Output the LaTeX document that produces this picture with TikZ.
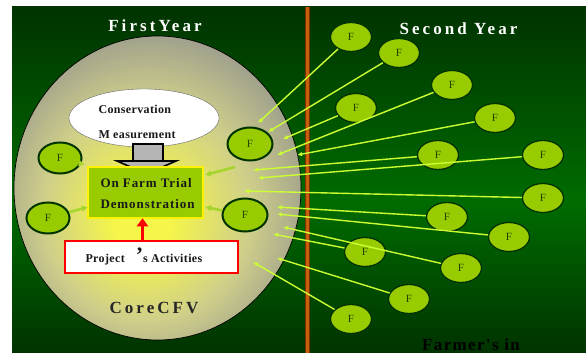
\documentclass[tikz,border=0pt]{standalone}
\usepackage{fontspec}
\setmainfont{Liberation Serif}
\newfontfamily\titlefont[LetterSpace=18]{Liberation Serif}
\newfontfamily\farmfont[LetterSpace=8]{Liberation Serif}
\newfontfamily\innerfont[LetterSpace=7]{Liberation Serif}
\newfontfamily\consfont[LetterSpace=3]{Liberation Serif}
\usetikzlibrary{arrows.meta,shapes.geometric}
\definecolor{bgtop}{HTML}{003300}
\definecolor{bgmid}{HTML}{006C00}
\definecolor{bgbot}{HTML}{003300}
\definecolor{fgreen}{HTML}{99CC00}
\definecolor{fborder}{HTML}{003300}
\definecolor{ftext}{HTML}{224400}
\definecolor{lineg}{HTML}{CCFF33}
\definecolor{arrg}{HTML}{A6D62E}
\definecolor{coregray}{HTML}{8E8E8E}
\definecolor{coreyellow}{HTML}{F5F54A}
\definecolor{coremid}{HTML}{CFCF8A}
\definecolor{rust}{HTML}{C8600A}
\definecolor{rustdark}{HTML}{7A3000}
\definecolor{boxgray}{HTML}{B4B4B4}
\pgfdeclareradialshading{coreshade}{\pgfpoint{-3bp}{-6bp}}{color(0bp)=(coreyellow); color(5bp)=(coreyellow); color(18bp)=(coremid); color(32bp)=(coregray); color(50bp)=(coregray)}
\begin{document}
\begin{tikzpicture}[x=1pt,y=-1pt,
  fnode/.style={ellipse, fill=fgreen, draw=fborder, line width=2pt, minimum width=43pt, minimum height=31pt, inner sep=0pt, font=\fontsize{11}{11}\selectfont, text=ftext},
  rnode/.style={ellipse, fill=fgreen, draw=fborder, line width=1.3pt, minimum width=41pt, minimum height=29pt, inner sep=0pt, font=\fontsize{11}{11}\selectfont, text=ftext},
  conn/.style={draw=lineg, line width=1.4pt, -{Latex[length=5pt,width=4.5pt]}},
  thickarr/.style={draw=arrg, line width=2.6pt, -{Latex[length=6pt,width=7pt]}},
  title/.style={anchor=base, text=white, font=\titlefont\bfseries\fontsize{17}{17}\selectfont},
  inner/.style={anchor=base west, text=black!90, font=\innerfont\bfseries\fontsize{13}{13}\selectfont},
  box/.style={rectangle, inner sep=0pt}
]
\useasboundingbox (0,0) rectangle (586,353);
\fill[white] (0,0) rectangle (586,353);
\shade[top color=bgtop, bottom color=bgmid] (12,7) rectangle (586,200.5);
\shade[top color=bgmid, bottom color=bgbot] (12,200) rectangle (586,353);
% orange divider
\fill[rust] (305,7) rectangle (309,353);
\draw[rustdark, line width=0.5pt] (305,7) -- (305,353) (309,7) -- (309,353);
% core ellipse
\node[ellipse, shade, shading=coreshade, draw=black, line width=0.7pt, minimum width=287pt, minimum height=304pt, inner sep=0pt] (core) at (157.5,188) {};
% conservation ellipse
\node[ellipse, fill=white, draw=black!60, line width=0.4pt, minimum width=150pt, minimum height=58pt, inner sep=0pt] (cons) at (144,118) {};
% block arrow
\filldraw[fill=boxgray, draw=black, line width=1.2pt] (133,144) rectangle (163,161);
\filldraw[fill=boxgray, draw=black, line width=1.6pt] (117,161) -- (176,161) -- (146.5,174) -- cycle;
% on farm trial box
\node[box, fill=fgreen, draw=yellow, line width=2.5pt, minimum width=115pt, minimum height=51pt] (ofd) at (145.5,192.5) {};
% project box
\node[box, fill=white, draw=red, line width=2.5pt, minimum width=173pt, minimum height=32pt] (pa) at (151.5,257) {};
\coordinate (redx) at (142.5,0);
\draw[red, line width=3.5pt, -{Triangle[width=11pt,length=8pt]}] (pa.north -| redx) -- ([yshift=1pt]ofd.south -| redx);
% left F nodes
\node[fnode] (l1) at (60,158) {F};
\node[fnode] (l2) at (48,218) {F};
\node[fnode, minimum width=45pt, minimum height=33pt] (i1) at (250,144) {F};
\node[fnode, minimum width=45pt, minimum height=33pt] (i2) at (245,215) {F};
% inner arrows
\coordinate (a2) at (88,207);
\coordinate (a3s) at (235,167);
\coordinate (a3e) at (205,175);
\coordinate (a4e) at (205,207);
\draw[thickarr] (l1) -- ([xshift=-2pt,yshift=1pt]ofd.north west);
\draw[thickarr] (l2) -- (a2);
\draw[thickarr] (a3s) -- (a3e);
\draw[thickarr] (i2) -- (a4e);
% right F nodes
\node[rnode] (f1) at (351,37) {F};
\node[rnode] (f2) at (399,53) {F};
\node[rnode] (f3) at (452,85) {F};
\node[rnode] (f4) at (356,108) {F};
\node[rnode] (f5) at (495,118) {F};
\node[rnode] (f6) at (438,155) {F};
\node[rnode] (f7) at (543,155) {F};
\node[rnode] (f8) at (543,198) {F};
\node[rnode] (f9) at (447,217) {F};
\node[rnode] (f10) at (509,237) {F};
\node[rnode] (f11) at (365,252) {F};
\node[rnode] (f12) at (461,268) {F};
\node[rnode] (f13) at (409,299) {F};
\node[rnode] (f14) at (351,319) {F};
% targets
\coordinate (t1) at (258,123);
\coordinate (t2) at (268,132);
\coordinate (t3) at (277,155);
\coordinate (t4) at (283,139);
\coordinate (t5) at (297,155);
\coordinate (t6) at (253,170);
\coordinate (t7) at (258,178);
\coordinate (t8) at (244,191);
\coordinate (t9) at (277,207);
\coordinate (t10) at (277,214);
\coordinate (t11) at (273,234);
\coordinate (t12) at (283,227);
\coordinate (t13) at (277,258);
\coordinate (t14) at (253,262);
\foreach \i in {1,...,14} { \draw[conn] (f\i) -- (t\i); }
% texts
\node[title] (fy) at (155,32) {FirstYear};
\node[title] (sy) at (458.5,35) {Second Year};
\node[title, text=black!85] (cc) at (154,313) {CoreCFV};
\node[anchor=base, text=black, font=\farmfont\bfseries\fontsize{17}{17}\selectfont] (fi) at (471,350) {Farmer's in};
\node[anchor=base west, text=black!90, font=\consfont\bfseries\fontsize{12}{12}\selectfont] (c1) at (95,113) {Conservation};
\node[anchor=base west, text=black!90, font=\consfont\bfseries\fontsize{12}{12}\selectfont] (c2) at (95,138) {M easurement};
\node[inner] (o1) at (97,187) {On Farm Trial};
\node[inner] (o2) at (97,208) {Demonstration};
\node[anchor=base west, text=black!90, font=\consfont\bfseries\fontsize{12}{12}\selectfont] (p1) at (82,262) {Project\hspace{11pt}{\fontsize{22}{22}\selectfont ’}s Activities};
\end{tikzpicture}
\end{document}
